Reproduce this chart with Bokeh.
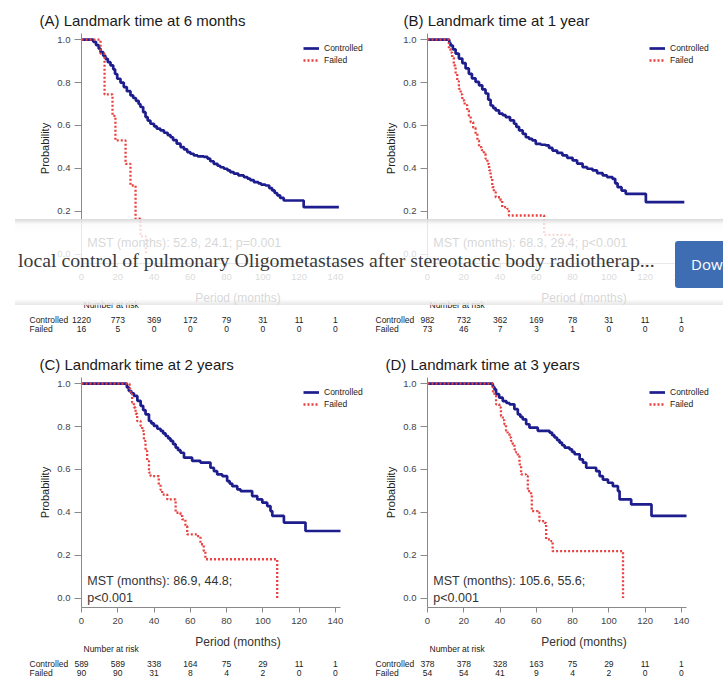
from bokeh.plotting import figure
from bokeh.layouts import column, row
from bokeh.models import Range1d, FixedTicker, PrintfTickFormatter, Legend, LegendItem, Div, Plot
from bokeh.core.properties import value
from bokeh.embed import file_html
from bokeh.resources import INLINE

# ---------------- data ----------------
titles = ["(A) Landmark time at 6 months", "(B) Landmark time at 1 year",
          "(C) Landmark time at 2 years", "(D) Landmark time at 3 years"]
series_names = ["Controlled", "Failed"]
x_ticks = [0, 20, 40, 60, 80, 100, 120, 140]
y_ticks = [0.0, 0.2, 0.4, 0.6, 0.8, 1.0]
risk_times = [0, 20, 40, 60, 80, 100, 120, 140]

a_ctrl_t = [0, 6.5, 8.0, 9.5, 10.5, 12.0, 13.2, 14.5, 16.0, 17.5, 18.5, 19.7, 21.5, 23.3, 25.0, 27.0, 28.5, 30.0,
            31.5, 32.5, 34.0, 35.3, 36.5, 38.0, 40.0, 41.5, 43.5, 45.5, 47.5, 49.1, 50.5, 52.5, 54.6, 56.5, 58.3,
            60.0, 61.9, 64.0, 67.4, 69.5, 71.0, 72.9, 75.0, 76.5, 78.5, 80.5, 82.0, 84.0, 86.5, 89.5, 91.5, 93.0,
            95.0, 97.5, 99.0, 101.4, 103.5, 105.1, 106.5, 107.9, 109.5, 111.5, 122.5, 141.9]
a_ctrl_s = [1.0, 0.99, 0.975, 0.958, 0.942, 0.925, 0.911, 0.895, 0.880, 0.862, 0.84, 0.818, 0.80, 0.779, 0.76, 0.740,
            0.728, 0.715, 0.70, 0.686, 0.662, 0.639, 0.623, 0.608, 0.596, 0.585, 0.577, 0.566, 0.555, 0.545, 0.532,
            0.515, 0.499, 0.488, 0.476, 0.468, 0.460, 0.456, 0.453, 0.445, 0.433, 0.421, 0.412, 0.405, 0.398, 0.39,
            0.382, 0.375, 0.367, 0.359, 0.352, 0.345, 0.336, 0.33, 0.324, 0.320, 0.308, 0.297, 0.285, 0.274, 0.262,
            0.250, 0.219, 0.219]
a_fail_t = [0, 10.5, 12.7, 17.1, 18.7, 24.3, 27.0, 29.8, 32.5, 35.5]
a_fail_s = [1.0, 0.935, 0.745, 0.645, 0.53, 0.421, 0.32, 0.165, 0.083, 0.0]

b_ctrl_t = [0, 12.0, 12.7, 14.0, 15.5, 17.3, 19.2, 21.0, 22.8, 24.5, 26.5, 28.4, 30.2, 32.0, 33.5, 34.8, 36.2, 37.6,
            39.5, 41.5, 43.1, 45.5, 47.7, 49.0, 50.5, 52.5, 54.2, 56.0, 57.8, 59.7, 62.5, 65.2, 67.0, 68.9, 71.5,
            74.4, 77.0, 80.0, 82.5, 85.5, 88.0, 91.0, 93.5, 96.6, 99.0, 102.0, 103.5, 104.8, 107.0, 109.3, 120.4,
            141.6]
b_ctrl_s = [1.0, 0.985, 0.973, 0.955, 0.935, 0.912, 0.891, 0.866, 0.841, 0.82, 0.803, 0.787, 0.768, 0.749, 0.72,
            0.693, 0.681, 0.670, 0.655, 0.648, 0.639, 0.624, 0.608, 0.593, 0.577, 0.561, 0.545, 0.537, 0.530, 0.514,
            0.510, 0.507, 0.495, 0.483, 0.472, 0.460, 0.449, 0.437, 0.422, 0.406, 0.398, 0.390, 0.378, 0.367, 0.359,
            0.351, 0.33, 0.312, 0.296, 0.281, 0.242, 0.242]
b_fail_t = [0, 11.8, 12.7, 13.6, 14.5, 15.5, 16.4, 17.3, 18.3, 19.2, 20.5, 21.9, 22.8, 23.8, 25.2, 26.5, 27.5, 28.4,
            29.8, 31.1, 32.0, 33.0, 34.0, 34.8, 35.7, 36.6, 37.6, 40.3, 41.2, 44.0, 44.9, 64.3, 79.5]
b_fail_s = [1.0, 0.958, 0.94, 0.916, 0.88, 0.841, 0.806, 0.771, 0.745, 0.717, 0.695, 0.670, 0.645, 0.615, 0.589,
            0.561, 0.53, 0.499, 0.485, 0.468, 0.445, 0.421, 0.39, 0.359, 0.312, 0.29, 0.265, 0.250, 0.219, 0.211,
            0.180, 0.09, 0.09]

c_ctrl_t = [0, 25.0, 26.1, 27.5, 28.9, 30.8, 32.6, 34.0, 35.3, 37.2, 38.5, 39.9, 41.8, 43.6, 45.0, 46.4, 47.8, 49.1,
            50.5, 51.9, 53.2, 54.6, 56.5, 61.0, 65.6, 71.1, 73.0, 74.8, 77.6, 80.3, 81.7, 83.1, 85.9, 87.7, 94.1,
            96.9, 99.7, 102.4, 104.2, 105.2, 111.6, 123.5, 142.8]
c_ctrl_s = [1.0, 0.983, 0.966, 0.955, 0.943, 0.92, 0.897, 0.877, 0.857, 0.826, 0.815, 0.803, 0.79, 0.780, 0.768,
            0.756, 0.745, 0.733, 0.718, 0.702, 0.69, 0.678, 0.655, 0.640, 0.632, 0.608, 0.592, 0.577, 0.569, 0.546,
            0.534, 0.522, 0.507, 0.499, 0.476, 0.460, 0.445, 0.429, 0.406, 0.383, 0.352, 0.313, 0.313]
c_fail_t = [0, 26.5, 27.0, 27.9, 28.9, 29.8, 30.7, 32.6, 33.5, 34.4, 35.3, 36.2, 37.2, 38.1, 42.6, 43.6, 44.5, 47.3,
            51.9, 54.6, 55.5, 57.3, 58.3, 63.7, 65.6, 67.4, 68.3, 107.9]
c_fail_s = [1.0, 0.978, 0.951, 0.912, 0.889, 0.86, 0.826, 0.803, 0.78, 0.733, 0.686, 0.639, 0.585, 0.569, 0.530,
            0.505, 0.483, 0.460, 0.398, 0.390, 0.367, 0.336, 0.297, 0.289, 0.251, 0.22, 0.181, 0.0]

d_ctrl_t = [0, 36.0, 36.9, 37.8, 39.5, 41.5, 43.5, 45.2, 47.9, 49.8, 51.2, 52.5, 54.4, 56.2, 60.8, 67.3, 68.7, 70.0,
            71.4, 72.8, 74.2, 75.6, 78.3, 79.7, 81.1, 83.9, 85.7, 87.5, 93.0, 94.9, 96.7, 99.5, 102.2, 105.0, 105.9,
            112.3, 123.5, 142.8]
d_ctrl_s = [1.0, 0.985, 0.974, 0.951, 0.935, 0.919, 0.91, 0.904, 0.881, 0.857, 0.845, 0.834, 0.811, 0.795, 0.780,
            0.772, 0.76, 0.749, 0.737, 0.725, 0.713, 0.702, 0.694, 0.682, 0.671, 0.647, 0.632, 0.608, 0.592, 0.569,
            0.553, 0.538, 0.522, 0.499, 0.460, 0.437, 0.383, 0.383]
d_fail_t = [0, 36.1, 36.9, 37.8, 39.6, 40.5, 41.5, 42.4, 43.3, 44.2, 45.2, 46.1, 47.0, 47.9, 48.8, 49.8, 50.7, 51.6,
            54.4, 55.3, 57.1, 57.5, 60.8, 61.7, 64.5, 65.4, 68.1, 69.0, 107.8]
d_fail_s = [1.0, 0.963, 0.943, 0.904, 0.889, 0.849, 0.83, 0.811, 0.780, 0.765, 0.749, 0.733, 0.718, 0.694, 0.68,
            0.663, 0.624, 0.577, 0.569, 0.499, 0.483, 0.406, 0.398, 0.359, 0.351, 0.274, 0.266, 0.219, 0.0]

a_risk_ctrl = [1220, 773, 369, 172, 79, 31, 11, 1]
a_risk_fail = [16, 5, 0, 0, 0, 0, 0, 0]
b_risk_ctrl = [982, 732, 362, 169, 78, 31, 11, 1]
b_risk_fail = [73, 46, 7, 3, 1, 0, 0, 0]
c_risk_ctrl = [589, 589, 338, 164, 75, 29, 11, 1]
c_risk_fail = [90, 90, 31, 8, 4, 2, 0, 0]
d_risk_ctrl = [378, 378, 328, 163, 75, 29, 11, 1]
d_risk_fail = [54, 54, 41, 9, 4, 2, 0, 0]

a_mst = ["MST (months): 52.8, 24.1; p=0.001"]
b_mst = ["MST (months): 68.3, 29.4; p<0.001"]
c_mst = ["MST (months): 86.9, 44.8;", "p<0.001"]
d_mst = ["MST (months): 105.6, 55.6;", "p<0.001"]

banner_text = "local control of pulmonary Oligometastases after stereotactic body radiotherap..."
button_text = "Dow"

for t, s in [(a_ctrl_t, a_ctrl_s), (a_fail_t, a_fail_s), (b_ctrl_t, b_ctrl_s), (b_fail_t, b_fail_s),
             (c_ctrl_t, c_ctrl_s), (c_fail_t, c_fail_s), (d_ctrl_t, d_ctrl_s), (d_fail_t, d_fail_s)]:
    assert len(t) == len(s), (len(t), len(s))

# ---------------- layout / style ----------------
FONT = "Liberation Sans"
BLUE = "#1d1d8e"
RED = "#e8413f"
AXIS = "#8a8a8a"
FRAME_W, FRAME_H = 259, 230
X_END = 142.8
Y_START, Y_END = -0.044, 1.029
MAIN_H = 287
BORDER_TOP, BORDER_BOTTOM = 33, 24
PPM = FRAME_W / X_END
HAS_FRAME_ALIGN = "frame_align" in Plot.properties()


def panel(title, title_offset, width, border_left, ct, cs, ft, fs, mst, mst_y, rc, rf, risk_h):
    x_max = (width - border_left) / PPM
    p = figure(width=width, height=MAIN_H, x_range=Range1d(0, x_max), y_range=Range1d(Y_START, Y_END),
               output_backend="svg", toolbar_location=None, title=title,
               min_border_left=border_left, min_border_right=0,
               min_border_top=BORDER_TOP, min_border_bottom=BORDER_BOTTOM)
    p.title.text_font = FONT
    p.title.text_font_size = "15px"
    p.title.text_font_style = "normal"
    p.title.text_color = "#1a1a1a"
    p.title.offset = title_offset
    p.title.standoff = 10
    p.outline_line_color = None
    p.grid.visible = False
    p.xaxis.ticker = FixedTicker(ticks=x_ticks)
    p.xaxis.bounds = (0, X_END)
    p.yaxis.ticker = FixedTicker(ticks=y_ticks)
    p.yaxis.formatter = PrintfTickFormatter(format="%.1f")
    for ax in (p.xaxis, p.yaxis):
        ax.axis_line_color = AXIS
        ax.major_tick_line_color = AXIS
        ax.minor_tick_line_color = None
        ax.major_tick_in = 0
        ax.major_label_text_font = FONT
        ax.major_label_text_font_size = "9.5px"
        ax.major_label_text_color = "#444444"
    p.xaxis.major_tick_out = 5
    p.xaxis.major_label_standoff = 5
    p.yaxis.major_tick_out = 7
    p.yaxis.major_label_standoff = 4
    p.yaxis.axis_label = "Probability"
    p.yaxis.axis_label_text_font = FONT
    p.yaxis.axis_label_text_font_size = "11px"
    p.yaxis.axis_label_text_font_style = "normal"
    p.yaxis.axis_label_text_color = "#222222"
    p.yaxis.axis_label_standoff = 3

    r1 = p.step(ct, cs, mode="after", line_color=BLUE, line_width=2.7)
    r2 = p.step(ft, fs, mode="after", line_color=RED, line_width=2.3, line_dash="2 2")
    leg = Legend(items=[LegendItem(label=series_names[0], renderers=[r1]),
                        LegendItem(label=series_names[1], renderers=[r2])],
                 location=(222, 197), glyph_width=16, glyph_height=12, label_height=12,
                 label_standoff=5, spacing=0, padding=0, margin=0, background_fill_alpha=0,
                 border_line_color=None, label_text_font=FONT, label_text_font_size="8.5px",
                 label_text_color="#222222", label_text_baseline="middle")
    p.add_layout(leg)
    p.text(x=[3.2] * len(mst), y=mst_y, text=mst, text_font=value(FONT), text_font_size="12.5px",
           text_color="#333333", text_baseline="middle", text_align="left")

    extra = {"frame_align": False} if HAS_FRAME_ALIGN else {}
    rk = figure(width=width, height=risk_h, x_range=Range1d(-border_left / PPM, (width - border_left) / PPM),
                y_range=Range1d(risk_h, 0), x_axis_type=None, y_axis_type=None, min_border=0,
                output_backend="svg", toolbar_location=None, **extra)
    rk.outline_line_color = None
    rk.text(x=[156.5 / PPM], y=[10], text=["Period (months)"], text_font=value(FONT), text_font_size="12px",
            text_color="#333333", text_baseline="middle", text_align="center")
    rk.text(x=[2 / PPM, -52 / PPM, -52 / PPM], y=[17, 32, 41], text=["Number at risk"] + series_names,
            text_font=value(FONT), text_font_size="8.5px",
            text_color="#222222", text_baseline="middle", text_align="left")
    rk.text(x=risk_times, y=[32] * len(rc), text=[str(v) for v in rc], text_font=value(FONT),
            text_font_size="8.5px", text_color="#222222", text_baseline="middle", text_align="center")
    rk.text(x=risk_times, y=[41] * len(rf), text=[str(v) for v in rf], text_font=value(FONT),
            text_font_size="8.5px", text_color="#222222", text_baseline="middle", text_align="center")
    return column(p, rk, spacing=0)


LW, LB = 366, 81
RW, RB = 357, 61
pa = panel(titles[0], -42, LW, LB, a_ctrl_t, a_ctrl_s, a_fail_t, a_fail_s, a_mst, [0.05], a_risk_ctrl, a_risk_fail, 57)
pb = panel(titles[1], -24, RW, RB, b_ctrl_t, b_ctrl_s, b_fail_t, b_fail_s, b_mst, [0.05], b_risk_ctrl, b_risk_fail, 57)
pc = panel(titles[2], -42, LW, LB, c_ctrl_t, c_ctrl_s, c_fail_t, c_fail_s, c_mst, [0.079, 0.0], c_risk_ctrl, c_risk_fail, 54)
pd = panel(titles[3], -42, RW, RB, d_ctrl_t, d_ctrl_s, d_fail_t, d_fail_s, d_mst, [0.079, 0.0], d_risk_ctrl, d_risk_fail, 54)

banner_html = (
    '<div style="position:absolute;left:3px;top:29px;font-family:\'Liberation Serif\';font-size:19.8px;'
    'color:#3a3a3a;white-space:nowrap;line-height:24px">' + banner_text + '</div>'
    '<div style="position:absolute;left:660px;top:22px;width:60px;height:47px;background:#3e6db3;'
    'border-radius:3px"></div>'
    '<div style="position:absolute;left:676px;top:22px;height:47px;line-height:47px;font-family:\'Open Sans\';'
    'font-size:15px;color:#ffffff;white-space:nowrap">' + button_text + '</div>'
)
banner = Div(text=banner_html, width=713, height=86, styles={
    "position": "absolute", "left": "10px", "top": "214px", "z-index": "10", "overflow": "hidden",
    "background": "linear-gradient(to bottom, rgba(215,215,215,0.95) 0px, rgba(250,250,250,0.82) 5px, "
                  "rgba(255,255,255,0.8) 12px, rgba(255,255,255,0.8) 80px, rgba(228,228,228,0.9) 86px)"})

layout = column(row(pa, pb, spacing=0), row(pc, pd, spacing=0), banner, spacing=0)
open("out.html", "w").write(file_html(layout, INLINE))
